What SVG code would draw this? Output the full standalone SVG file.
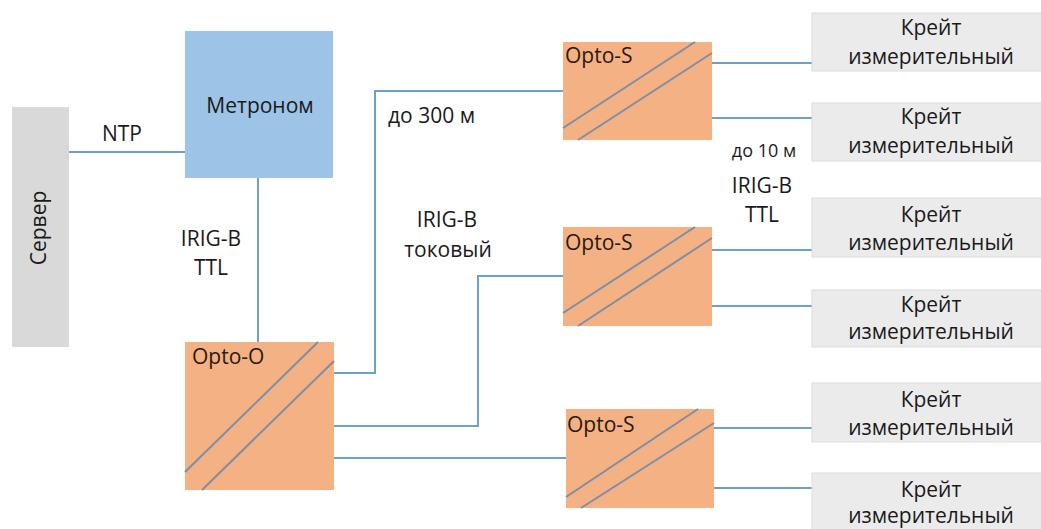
<svg xmlns="http://www.w3.org/2000/svg" width="1041" height="529" viewBox="0 0 1041 529">
<style>
text{font-family:"Open Sans","Liberation Sans",sans-serif;font-size:21px;fill:#1a1a1a}
.c{text-anchor:middle}
.link{fill:none;stroke:#6f9fcc;stroke-width:2}
.opto{fill:#f4b183}
.diag{stroke:#7d8ea6;stroke-width:2}
.crate{fill:#ebebeb;stroke:#dcdcdc;stroke-width:1}
.otext{fill:#2a1a10}
</style>
<rect width="1041" height="529" fill="#ffffff"/>
<g id="connectors">
<path class="link" d="M69,152 H185"/>
<path class="link" d="M258,178 V342"/>
<path class="link" d="M334,373 H375 V91 H563"/>
<path class="link" d="M334,426 H478 V276 H563"/>
<path class="link" d="M334,458 H566"/>
<path class="link" d="M712,63 H812 M712,118 H812"/>
<path class="link" d="M712,250 H812 M712,306 H812"/>
<path class="link" d="M714,428 H812 M714,488 H812"/>
</g>
<g id="labels">
<text class="c" x="122" y="141">NTP</text>
<text class="c" x="211" y="246">IRIG-B</text>
<text class="c" x="211" y="275">TTL</text>
<text x="388" y="123">до 300 м</text>
<text class="c" x="447" y="227">IRIG-B</text>
<text class="c" x="448" y="257">токовый</text>
<text class="c" x="764" y="157" style="font-size:18px">до 10 м</text>
<text class="c" x="762" y="193">IRIG-B</text>
<text class="c" x="762" y="222">TTL</text>
</g>
<g id="server">
<rect x="12" y="107" width="57" height="240" fill="#d9d9d9"/>
<text class="c" transform="translate(46,228) rotate(-90)">Сервер</text>
</g>
<g id="metronom">
<rect x="185" y="31" width="148" height="147" fill="#9dc3e6"/>
<text class="c" x="260" y="113">Метроном</text>
</g>
<g id="opto-o">
<rect class="opto" x="185" y="342" width="149" height="148"/>
<line class="diag" x1="185" y1="472" x2="318" y2="342"/>
<line class="diag" x1="202" y1="490" x2="334" y2="361"/>
<text class="otext" x="192" y="364">Opto-O</text>
</g>
<g id="opto-s1">
<rect class="opto" x="563" y="42" width="149" height="98"/>
<line class="diag" x1="563" y1="128" x2="695" y2="42"/>
<line class="diag" x1="578" y1="140" x2="712" y2="53"/>
<text class="otext" x="565" y="63">Opto-S</text>
</g>
<g id="opto-s2">
<rect class="opto" x="563" y="227" width="149" height="99"/>
<line class="diag" x1="563" y1="313" x2="695" y2="227"/>
<line class="diag" x1="578" y1="326" x2="712" y2="238"/>
<text class="otext" x="565" y="250">Opto-S</text>
</g>
<g id="opto-s3">
<rect class="opto" x="566" y="409" width="148" height="99"/>
<line class="diag" x1="566" y1="497" x2="698" y2="409"/>
<line class="diag" x1="581" y1="508" x2="714" y2="423"/>
<text class="otext" x="567" y="432">Opto-S</text>
</g>
<g id="crate1">
<rect class="crate" x="812" y="13" width="232" height="58"/>
<text class="c" x="931" y="35">Крейт</text>
<text class="c" x="931" y="64">измерительный</text>
</g>
<g id="crate2">
<rect class="crate" x="812" y="103" width="232" height="58"/>
<text class="c" x="931" y="124">Крейт</text>
<text class="c" x="931" y="153">измерительный</text>
</g>
<g id="crate3">
<rect class="crate" x="812" y="198" width="232" height="59"/>
<text class="c" x="931" y="222">Крейт</text>
<text class="c" x="931" y="250">измерительный</text>
</g>
<g id="crate4">
<rect class="crate" x="812" y="290" width="232" height="57"/>
<text class="c" x="931" y="312">Крейт</text>
<text class="c" x="931" y="339">измерительный</text>
</g>
<g id="crate5">
<rect class="crate" x="812" y="383" width="232" height="59"/>
<text class="c" x="931" y="407">Крейт</text>
<text class="c" x="931" y="435">измерительный</text>
</g>
<g id="crate6">
<rect class="crate" x="812" y="473" width="232" height="62"/>
<text class="c" x="931" y="497">Крейт</text>
<text class="c" x="931" y="523">измерительный</text>
</g>
</svg>
